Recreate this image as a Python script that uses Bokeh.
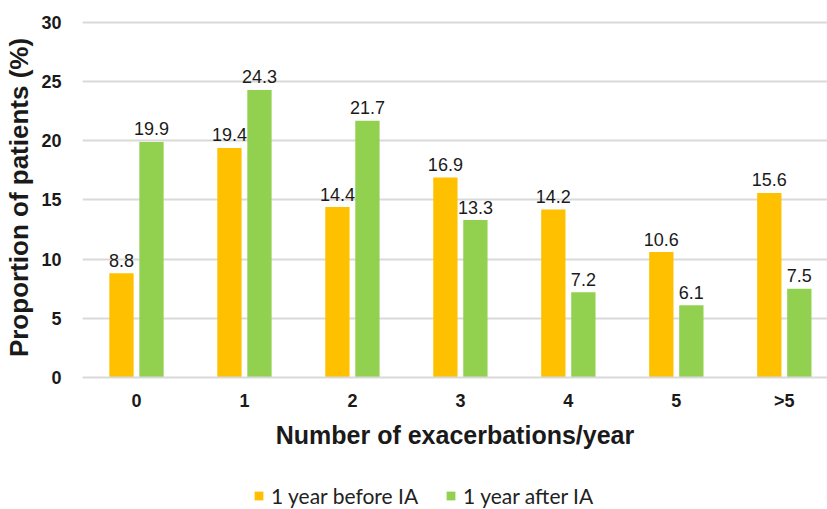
from bokeh.plotting import figure
from bokeh.models import Range1d, FixedTicker, Legend, LegendItem, ColumnDataSource
from bokeh.layouts import column
from bokeh.embed import file_html
from bokeh.resources import INLINE
from bokeh.core.properties import value

categories = ["0", "1", "2", "3", "4", "5", ">5"]
before_ia = [8.8, 19.4, 14.4, 16.9, 14.2, 10.6, 15.6]
after_ia = [19.9, 24.3, 21.7, 13.3, 7.2, 6.1, 7.5]
y_ticks = [0, 5, 10, 15, 20, 25, 30]
series_names = ["1 year before IA", "1 year after IA"]

ORANGE = "#FFC000"
GREEN = "#92D050"
GRID = "#D9D9D9"
TXT = "#1a1a1a"

idx = list(range(len(categories)))
offset = 0.139
bw = 0.225

src_b = ColumnDataSource(dict(x=[i - offset for i in idx], top=before_ia,
                              lab=[f"{v:.1f}" for v in before_ia]))
src_a = ColumnDataSource(dict(x=[i + offset for i in idx], top=after_ia,
                              lab=[f"{v:.1f}" for v in after_ia]))

p = figure(width=827, height=470, output_backend="svg", toolbar_location=None,
           x_range=Range1d(-0.5, 6.4), y_range=Range1d(0, 30.42),
           min_border_left=82, min_border_right=0, min_border_top=17,
           min_border_bottom=93)
p.outline_line_color = None
p.background_fill_color = "white"

rb = p.vbar(x="x", top="top", width=bw, source=src_b, fill_color=ORANGE, line_color=None)
ra = p.vbar(x="x", top="top", width=bw, source=src_a, fill_color=GREEN, line_color=None)

for src in (src_b, src_a):
    p.text(x="x", y="top", text="lab", source=src, text_align="center",
           text_baseline="alphabetic", y_offset=-13, text_font_size="18px",
           text_font=value("Liberation Sans"), text_color=TXT)

# axes
p.xaxis.ticker = FixedTicker(ticks=idx)
p.xaxis.major_label_overrides = {i: c for i, c in zip(idx, categories)}
p.xaxis.major_tick_line_color = None
p.xaxis.minor_tick_line_color = None
p.xaxis.axis_line_color = GRID
p.xaxis.axis_line_width = 2
p.xaxis.major_label_text_font = "Liberation Sans"
p.xaxis.major_label_text_font_style = "bold"
p.xaxis.major_label_text_font_size = "18px"
p.xaxis.major_label_text_color = TXT
p.xaxis.major_label_standoff = 7
p.xaxis.axis_label = "Number of exacerbations/year"
p.xaxis.axis_label_text_font = "Liberation Sans"
p.xaxis.axis_label_text_font_style = "bold"
p.xaxis.axis_label_text_font_size = "25px"
p.xaxis.axis_label_text_color = TXT
p.xaxis.axis_label_standoff = 7

p.yaxis.ticker = FixedTicker(ticks=y_ticks)
p.yaxis.major_tick_line_color = None
p.yaxis.minor_tick_line_color = None
p.yaxis.axis_line_color = None
p.yaxis.major_label_text_font = "Liberation Sans"
p.yaxis.major_label_text_font_style = "bold"
p.yaxis.major_label_text_font_size = "18px"
p.yaxis.major_label_text_color = TXT
p.yaxis.major_label_standoff = 15
p.yaxis.axis_label = "Proportion of patients (%)"
p.yaxis.axis_label_text_font = "Liberation Sans"
p.yaxis.axis_label_text_font_style = "bold"
p.yaxis.axis_label_text_font_size = "26px"
p.yaxis.axis_label_text_color = TXT
p.yaxis.axis_label_standoff = 4

p.xgrid.grid_line_color = None
p.ygrid.grid_line_color = GRID
p.ygrid.grid_line_width = 2

# legend strip below the chart (its bars fall far outside its visible ranges)
leg = figure(width=827, height=39, output_backend="svg", toolbar_location=None,
             x_range=Range1d(1000, 1001), y_range=Range1d(1000, 1001),
             min_border=0, x_axis_type=None, y_axis_type=None)
leg.outline_line_color = None
leg.xgrid.visible = False
leg.ygrid.visible = False
lb = leg.vbar(x="x", top="top", width=bw, source=src_b, fill_color=ORANGE, line_color=None)
la = leg.vbar(x="x", top="top", width=bw, source=src_a, fill_color=GREEN, line_color=None)

legend = Legend(items=[LegendItem(label=series_names[0], renderers=[lb]),
                       LegendItem(label=series_names[1], renderers=[la])],
                orientation="horizontal", location=(171, 1),
                glyph_width=11, glyph_height=11, spacing=27, padding=0, margin=0,
                label_text_font="Lato", label_text_font_size="21px",
                label_text_color="#222222", label_standoff=7,
                border_line_color=None, background_fill_alpha=0)
leg.add_layout(legend, "center")

layout = column(p, leg, spacing=0)
open("out.html", "w").write(file_html(layout, INLINE))
